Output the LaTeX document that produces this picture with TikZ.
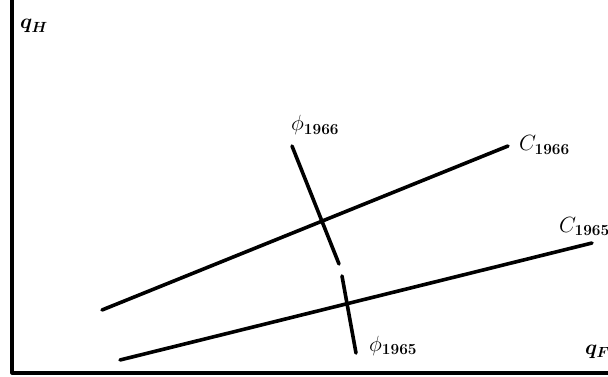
\documentclass[tikz,border=0pt]{standalone}
\usepackage{fix-cm}
\usepackage{amsmath,amssymb}
\usepackage{tikz}
\tikzset{
  ec diagram/.style={x=1pt, y=-1pt, line cap=round, line join=round},
  ec axis/.style={draw=black, line width=3.2pt, line cap=butt},
  ec curve/.style={draw=black, line width=3.6pt},
  ec label/.style={inner sep=0pt, anchor=base west, font=\fontsize{22}{26}\selectfont},
  ec axis label/.style={ec label, font=\fontsize{21}{25}\selectfont\boldmath}
}
\begin{document}
\begin{tikzpicture}[ec diagram]
\useasboundingbox (0,0) rectangle (608,377);
% axes
\coordinate (ytop) at (12,0);
\coordinate (origin) at (12,373);
\coordinate (xend) at (608,373);
\draw[ec axis] (ytop) -- (origin) -- (xend);
\node[ec axis label] (qH) at (20,29) {$q_{H}$};
\node[ec axis label] (qF) at (585,354) {$q_{F}$};
% budget lines
\coordinate (c66a) at (102,310);
\coordinate (c66b) at (508,146);
\coordinate (c65a) at (120,360);
\coordinate (c65b) at (592,243);
\draw[ec curve] (c66a) -- (c66b);
\draw[ec curve] (c65a) -- (c65b);
\node[ec label] (C66) at (519,151) {$C_{\mathbf{1966}}$};
\node[ec label] (C65) at (559,232) {$C_{\mathbf{1965}}$};
% phi segments
\coordinate (p66a) at (292,146);
\coordinate (p66b) at (339,264);
\coordinate (p65a) at (342,276);
\coordinate (p65b) at (356,353);
\draw[ec curve] (p66a) -- (p66b);
\draw[ec curve] (p65a) -- (p65b);
\node[ec label] (phi66) at (291,131) {$\phi_{\mathbf{1966}}$};
\node[ec label] (phi65) at (369,351) {$\phi_{\mathbf{1965}}$};
\end{tikzpicture}
\end{document}
